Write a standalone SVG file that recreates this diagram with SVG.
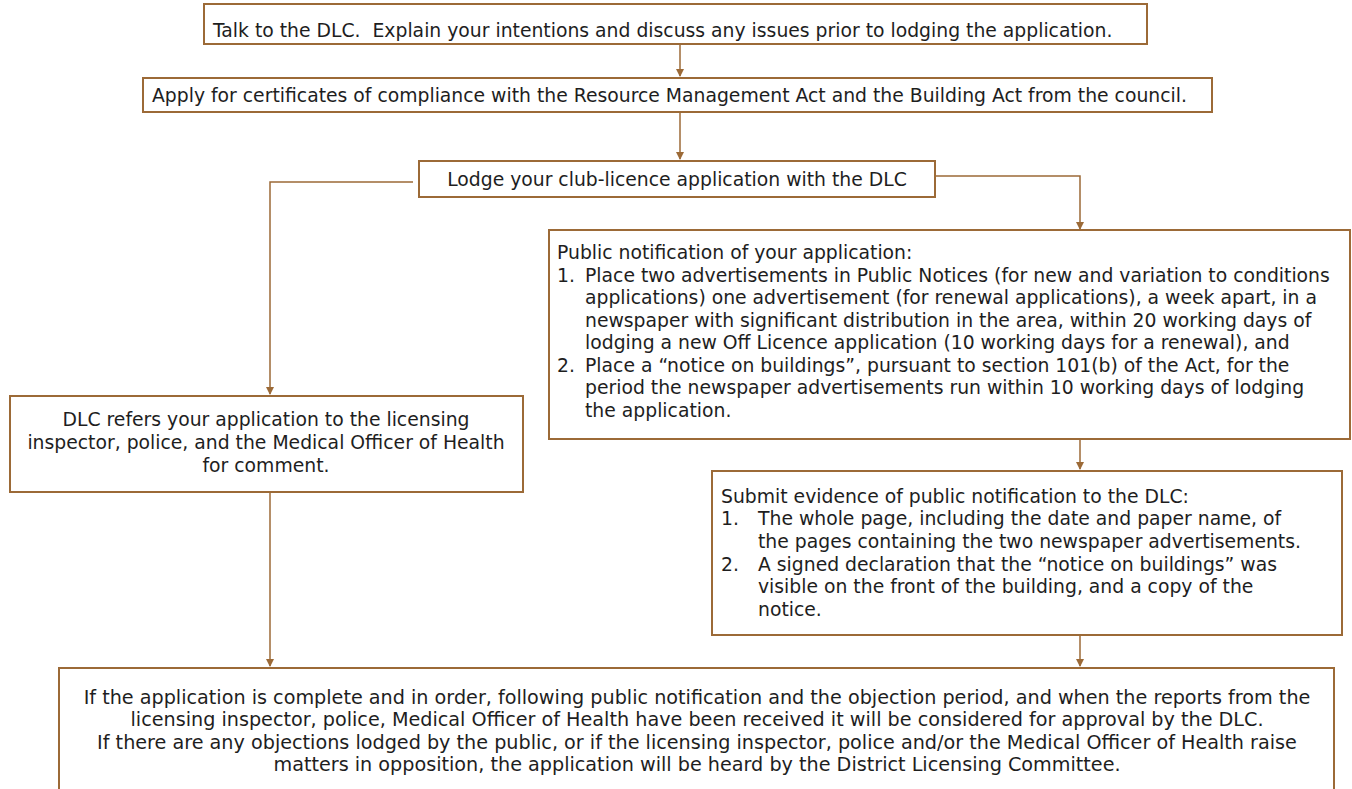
<svg xmlns="http://www.w3.org/2000/svg" width="1352" height="789" viewBox="0 0 1352 789">
<style>
.box{fill:#fff;stroke:#9C6A37;stroke-width:2}
.t{font-family:"DejaVu Sans",Verdana,sans-serif;font-size:18.8px;fill:#1e1e1e}
.b{font-size:19.2px}
.c{text-anchor:middle}
.ln{fill:none;stroke:#9C6A37;stroke-width:1.5}
</style>
<defs>
<marker id="ah" markerWidth="8" markerHeight="8" refX="7" refY="4" orient="auto" markerUnits="userSpaceOnUse"><path d="M0,0 L8,4 L0,8 z" fill="#9C6A37"/></marker>
</defs>
<rect width="1352" height="789" fill="#fff"/>
<g id="connectors">
<path class="ln" d="M680,45 V76" marker-end="url(#ah)"/>
<path class="ln" d="M680,113 V159" marker-end="url(#ah)"/>
<path class="ln" d="M413,182 H270 V394" marker-end="url(#ah)"/>
<path class="ln" d="M936,176 H1080 V229" marker-end="url(#ah)"/>
<path class="ln" d="M1080,440 V469" marker-end="url(#ah)"/>
<path class="ln" d="M1080,636 V666" marker-end="url(#ah)"/>
<path class="ln" d="M270,493 V666" marker-end="url(#ah)"/>
</g>
<g id="n1">
<rect class="box" x="204" y="4" width="943" height="40"/>
<text class="t" x="213" y="37" xml:space="preserve">Talk to the DLC.  Explain your intentions and discuss any issues prior to lodging the application.</text>
</g>
<g id="n2">
<rect class="box" x="143" y="78" width="1069" height="34"/>
<text class="t" x="152" y="102">Apply for certificates of compliance with the Resource Management Act and the Building Act from the council.</text>
</g>
<g id="n3">
<rect class="box" x="419" y="161" width="516" height="36"/>
<text class="t c" x="677" y="186">Lodge your club-licence application with the DLC</text>
</g>
<g id="n4">
<rect class="box" x="549" y="230" width="801" height="209"/>
<text class="t" x="557" y="259">Public notification of your application:</text>
<text class="t" x="557" y="282">1.</text>
<text class="t" x="585" y="282">Place two advertisements in Public Notices (for new and variation to conditions</text>
<text class="t" x="585" y="304">applications) one advertisement (for renewal applications), a week apart, in a</text>
<text class="t" x="585" y="327">newspaper with significant distribution in the area, within 20 working days of</text>
<text class="t" x="585" y="349">lodging a new Off Licence application (10 working days for a renewal), and</text>
<text class="t" x="557" y="372">2.</text>
<text class="t" x="585" y="372">Place a “notice on buildings”, pursuant to section 101(b) of the Act, for the</text>
<text class="t" x="585" y="394">period the newspaper advertisements run within 10 working days of lodging</text>
<text class="t" x="585" y="417">the application.</text>
</g>
<g id="n5">
<rect class="box" x="712" y="471" width="630" height="164"/>
<text class="t" x="721" y="503">Submit evidence of public notification to the DLC:</text>
<text class="t" x="721" y="525">1.</text>
<text class="t" x="758" y="525">The whole page, including the date and paper name, of</text>
<text class="t" x="758" y="548">the pages containing the two newspaper advertisements.</text>
<text class="t" x="721" y="571">2.</text>
<text class="t" x="758" y="571">A signed declaration that the “notice on buildings” was</text>
<text class="t" x="758" y="593">visible on the front of the building, and a copy of the</text>
<text class="t" x="758" y="616">notice.</text>
</g>
<g id="n6">
<rect class="box" x="10" y="396" width="513" height="96"/>
<text class="t c" x="266" y="426">DLC refers your application to the licensing</text>
<text class="t c" x="266" y="449">inspector, police, and the Medical Officer of Health</text>
<text class="t c" x="266" y="472">for comment.</text>
</g>
<g id="n7">
<rect class="box" x="59" y="668" width="1275" height="125"/>
<text class="t b c" x="697" y="704">If the application is complete and in order, following public notification and the objection period, and when the reports from the</text>
<text class="t b c" x="697" y="726">licensing inspector, police, Medical Officer of Health have been received it will be considered for approval by the DLC.</text>
<text class="t b c" x="697" y="749">If there are any objections lodged by the public, or if the licensing inspector, police and/or the Medical Officer of Health raise</text>
<text class="t b c" x="697" y="771">matters in opposition, the application will be heard by the District Licensing Committee.</text>
</g>
</svg>
